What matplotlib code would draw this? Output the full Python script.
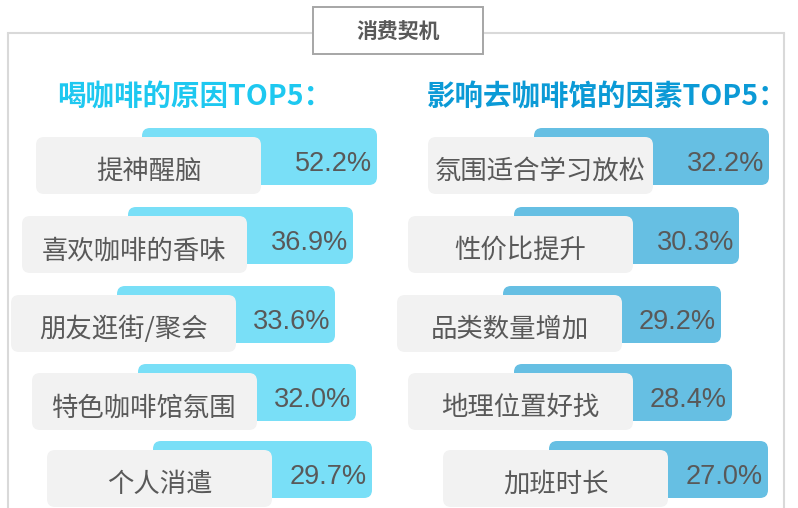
import matplotlib

matplotlib.use("Agg")
import matplotlib.pyplot as plt
from matplotlib import font_manager
from matplotlib.patches import FancyBboxPatch, Rectangle

# data
TITLE = "消费契机"
LEFT_HEAD = "喝咖啡的原因TOP5："
RIGHT_HEAD = "影响去咖啡馆的因素TOP5："
left_labels = ["提神醒脑", "喜欢咖啡的香味", "朋友逛街/聚会", "特色咖啡馆氛围", "个人消遣"]
left_values = [52.2, 36.9, 33.6, 32.0, 29.7]
right_labels = ["氛围适合学习放松", "性价比提升", "品类数量增加", "地理位置好找", "加班时长"]
right_values = [32.2, 30.3, 29.2, 28.4, 27.0]

# layout (pixels, the infographic staggers the rows)
row_top = [128, 207, 286, 364, 441]
bar_w = [235, 225, 218, 218, 219]
left_x0 = [142, 128, 117, 138, 153]
right_x0 = [534, 514, 503, 514, 549]
BAR_H = 57
BOX_W, BOX_H = 225, 57
BOX_DX, BOX_DY = -106, 9

CJK = ["Noto Sans CJK SC", "DejaVu Sans"]
names = {f.name for f in font_manager.fontManager.ttflist}
NUM = "Liberation Sans Narrow" if "Liberation Sans Narrow" in names else "Liberation Sans"
plt.rcParams["font.family"] = CJK

GREY_TXT = "#595959"
FRAME = "#d9d9d9"


def rbox(ax, x, y, w, h, color, z):
    ax.add_patch(FancyBboxPatch((x, y), w, h, boxstyle="round,pad=0,rounding_size=8",
                                fc=color, ec="none", zorder=z))


def column(ax, labels, values, xs, bar_color):
    for i, (lab, v) in enumerate(zip(labels, values)):
        y = row_top[i]
        x = xs[i]
        rbox(ax, x, y, bar_w[i], BAR_H, bar_color, 2)
        bx, by = x + BOX_DX, y + BOX_DY
        rbox(ax, bx, by, BOX_W, BOX_H, "#f2f2f2", 3)
        ax.text(bx + BOX_W / 2, by + 42, lab, ha="center", va="baseline",
                fontsize=19, color=GREY_TXT, zorder=4)
        ax.text(x + bar_w[i] - 5, y + 43, f"{v:.1f}%", ha="right", va="baseline",
                fontsize=19.5, color=GREY_TXT, family=NUM, zorder=4)


fig = plt.figure(figsize=(7.98, 5.08), dpi=100)
ax = fig.add_axes([0, 0, 1, 1])
ax.set_xlim(0, 798)
ax.set_ylim(508, 0)
ax.axis("off")

# outer frame
ax.plot([8, 8], [33, 508], color=FRAME, lw=1.5, solid_capstyle="butt")
ax.plot([784, 784], [33, 508], color=FRAME, lw=1.5, solid_capstyle="butt")
ax.plot([8, 313], [33, 33], color=FRAME, lw=1.5)
ax.plot([483, 784], [33, 33], color=FRAME, lw=1.5)

# title box
ax.add_patch(Rectangle((313, 7), 170, 47, fc="white", ec="#a6a6a6", lw=1.4, zorder=5))
ax.text(398, 31, TITLE, ha="center", va="center", fontsize=15, fontweight="bold",
        color=GREY_TXT, zorder=6)

ax.text(57, 105, LEFT_HEAD, ha="left", va="baseline", fontsize=20.5,
        fontweight="bold", color="#1ec8f0")
ax.text(427, 105, RIGHT_HEAD, ha="left", va="baseline", fontsize=20.5,
        fontweight="bold", color="#0b9ad6")

column(ax, left_labels, left_values, left_x0, "#79dff7")
column(ax, right_labels, right_values, right_x0, "#66bfe3")

fig.savefig("out.png", dpi=100)
